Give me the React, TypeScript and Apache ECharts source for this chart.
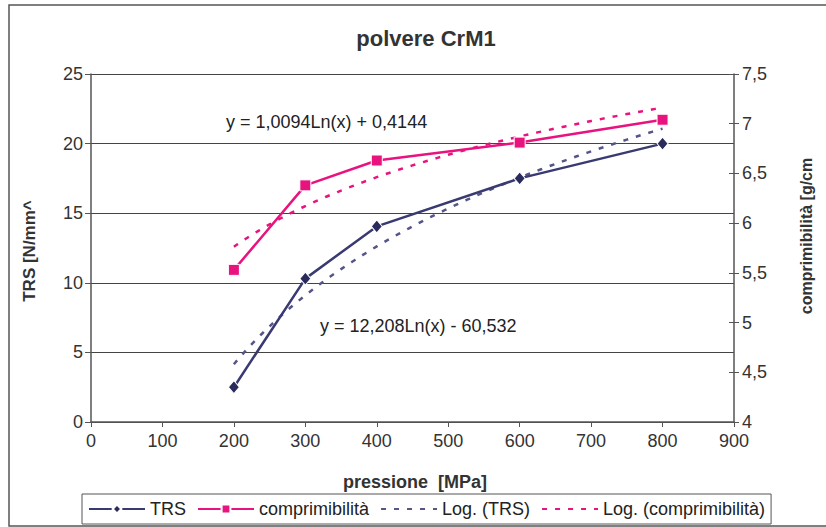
import React, { useEffect, useRef } from "react";
import * as echarts from "echarts";

// pressione [MPa]
const pressure = [200, 300, 400, 600, 800];
// TRS [N/mm²]
const trs = [2.5, 10.3, 14.05, 17.5, 20.0];
// comprimibilità [g/cm³]
const comp = [5.53, 6.38, 6.63, 6.81, 7.04];

// logarithmic trend lines: y = a·ln(x) + b
const trsFit = { a: 12.208, b: -60.532 };
const compFit = { a: 1.0094, b: 0.4144 };
const trsFitLabel = "y = 12,208Ln(x) - 60,532";
const compFitLabel = "y = 1,0094Ln(x) + 0,4144";

const FONT = "'Liberation Sans', Arial, Helvetica, sans-serif";
const NAVY = "#3a3a72";
const NAVY_MARK = "#2a2a5c";
const NAVY_FIT = "#55558a";
const PINK = "#e8137f";

function trendPoints(fit: { a: number; b: number }, from: number, to: number, step: number) {
  const pts: [number, number][] = [];
  for (let x = from; x <= to; x += step) pts.push([x, fit.a * Math.log(x) + fit.b]);
  return pts;
}

const comma = (v: number) => String(v).replace(".", ",");

export default function App() {
  const ref = useRef<HTMLDivElement>(null);

  useEffect(() => {
    if (!ref.current) return;
    const chart = echarts.init(ref.current, undefined, { renderer: "svg" });
    const xMin = pressure[0];
    const xMax = pressure[pressure.length - 1];

    chart.setOption({
      animation: false,
      backgroundColor: "#ffffff",
      textStyle: { fontFamily: FONT },
      grid: { left: 91, right: 92, top: 74, bottom: 105, containLabel: false },
      xAxis: {
        type: "value",
        min: 0,
        max: 900,
        interval: 100,
        axisLine: { show: true, lineStyle: { color: "#555", width: 1.5 } },
        axisTick: { show: true, length: 5, lineStyle: { color: "#555" } },
        axisLabel: { color: "#333", fontSize: 18, fontFamily: FONT, margin: 10 },
        splitLine: { show: false },
      },
      yAxis: [
        {
          type: "value",
          position: "left",
          min: 0,
          max: 25,
          interval: 5,
          axisLine: { show: true, lineStyle: { color: "#555", width: 1.5 } },
          axisTick: { show: true, length: 6, lineStyle: { color: "#555" } },
          axisLabel: { color: "#333", fontSize: 18, fontFamily: FONT, margin: 8 },
          splitLine: { show: true, lineStyle: { color: "#444", width: 1 } },
        },
        {
          type: "value",
          position: "right",
          min: 4,
          max: 7.5,
          interval: 0.5,
          axisLine: { show: true, lineStyle: { color: "#555", width: 1.5 } },
          axisTick: { show: true, length: 5, lineStyle: { color: "#555" } },
          axisLabel: { color: "#333", fontSize: 18, fontFamily: FONT, margin: 8, formatter: comma },
          splitLine: { show: false },
        },
        {
          type: "value",
          position: "right",
          min: 4,
          max: 7.5,
          interval: 0.5,
          axisLine: { show: false },
          axisTick: { show: true, inside: true, length: 5, lineStyle: { color: "#555" } },
          axisLabel: { show: false },
          splitLine: { show: false },
        },
      ],
      legend: {
        left: 82,
        top: 494,
        padding: [6, 6, 6, 6],
        itemWidth: 56,
        itemHeight: 11,
        itemGap: 11,
        borderColor: "#555",
        borderWidth: 1,
        textStyle: { color: "#222", fontSize: 18, fontFamily: FONT },
        data: [
          "TRS",
          "comprimibilità",
          // trend lines show a bare line, without a marker
          { name: "Log. (TRS)", itemStyle: { opacity: 0 } },
          { name: "Log. (comprimibilità)", itemStyle: { opacity: 0 } },
        ],
      },
      graphic: [
        {
          type: "rect",
          shape: { x: 9, y: 5, width: 900, height: 521 },
          style: { fill: "none", stroke: "#555", lineWidth: 1.5 },
          silent: true,
        },
        {
          type: "text",
          x: 426,
          y: 38,
          style: {
            text: "polvere CrM1",
            fill: "#333",
            font: `bold 22px ${FONT}`,
            textAlign: "center",
            textVerticalAlign: "middle",
          },
        },
        {
          type: "text",
          x: 415,
          y: 482,
          style: {
            text: "pressione  [MPa]",
            fill: "#333",
            font: `bold 18px ${FONT}`,
            textAlign: "center",
            textVerticalAlign: "middle",
          },
        },
        {
          type: "text",
          x: 29,
          y: 251,
          rotation: Math.PI / 2,
          style: {
            text: "TRS [N/mm^",
            fill: "#333",
            font: `bold 17px ${FONT}`,
            textAlign: "center",
            textVerticalAlign: "middle",
          },
        },
        {
          type: "text",
          x: 806,
          y: 236,
          rotation: Math.PI / 2,
          style: {
            text: "comprimibilità [g/cm",
            fill: "#333",
            font: `bold 16px ${FONT}`,
            textAlign: "center",
            textVerticalAlign: "middle",
          },
        },
        {
          type: "text",
          x: 226,
          y: 122,
          style: {
            text: compFitLabel,
            fill: "#222",
            font: `18px ${FONT}`,
            textAlign: "left",
            textVerticalAlign: "middle",
          },
        },
        {
          type: "text",
          x: 320,
          y: 326,
          style: {
            text: trsFitLabel,
            fill: "#222",
            font: `18px ${FONT}`,
            textAlign: "left",
            textVerticalAlign: "middle",
          },
        },
      ],
      series: [
        {
          name: "Log. (TRS)",
          type: "line",
          yAxisIndex: 0,
          data: trendPoints(trsFit, xMin, xMax, 5),
          symbol: "none",
          lineStyle: { color: NAVY_FIT, width: 2.5, type: [5, 8] },
          itemStyle: { color: NAVY_FIT },
          z: 2,
        },
        {
          name: "Log. (comprimibilità)",
          type: "line",
          yAxisIndex: 1,
          data: trendPoints(compFit, xMin, xMax, 5),
          symbol: "none",
          lineStyle: { color: PINK, width: 2.5, type: [5, 8] },
          itemStyle: { color: PINK },
          z: 2,
        },
        {
          name: "TRS",
          type: "line",
          yAxisIndex: 0,
          data: pressure.map((p, i) => [p, trs[i]]),
          symbol: "diamond",
          symbolSize: [11, 13],
          lineStyle: { color: NAVY, width: 2.5 },
          itemStyle: { color: NAVY_MARK, borderColor: "#ffffff", borderWidth: 1 },
          z: 3,
        },
        {
          name: "comprimibilità",
          type: "line",
          yAxisIndex: 1,
          data: pressure.map((p, i) => [p, comp[i]]),
          symbol: "rect",
          symbolSize: 11,
          lineStyle: { color: PINK, width: 2.5 },
          itemStyle: { color: PINK, borderColor: "#ffffff", borderWidth: 1 },
          z: 3,
        },
      ],
    });

    return () => chart.dispose();
  }, []);

  return (
    <div
      ref={ref}
      style={{ position: "fixed", left: 0, top: 0, width: 826, height: 527, background: "#fff" }}
    />
  );
}
